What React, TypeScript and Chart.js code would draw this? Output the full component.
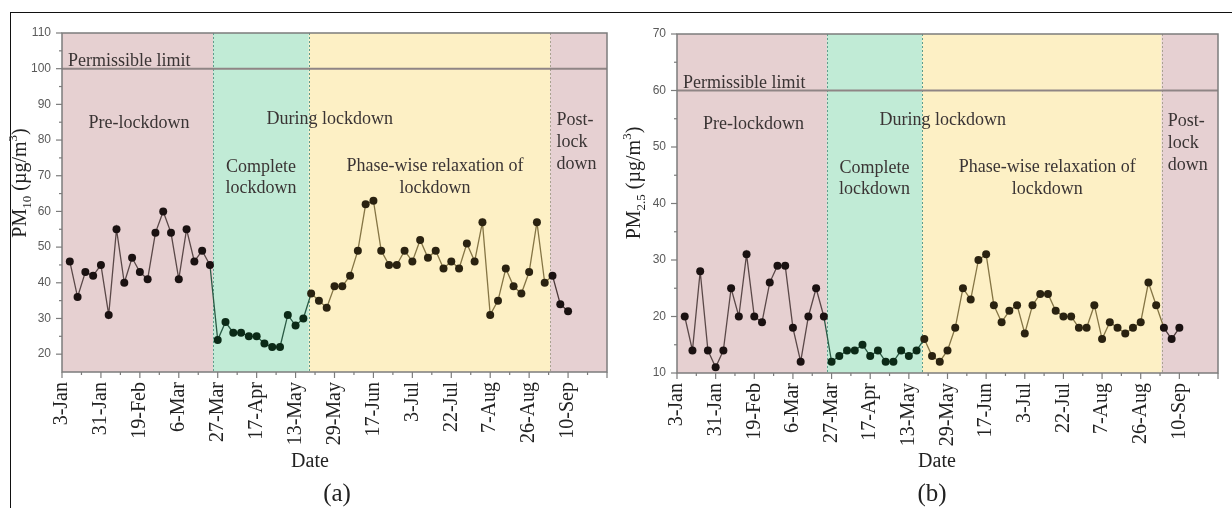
import React, { useEffect, useRef } from 'react';
import { Chart, registerables } from 'chart.js';

Chart.register(...registerables);

// ---------- data ----------
const dateLabels = ['3-Jan', '31-Jan', '19-Feb', '6-Mar', '27-Mar', '17-Apr', '13-May', '29-May', '17-Jun', '3-Jul', '22-Jul', '7-Aug', '26-Aug', '10-Sep', ''];
const xTickValues = [0, 5, 10, 15, 20, 25, 30, 35, 40, 45, 50, 55, 60, 65, 70];

const pm10Values = [
  46, 36, 43, 42, 45, 31, 55, 40, 47, 43, 41, 54, 60, 54, 41, 55, 46, 49, 45,
  24, 29, 26, 26, 25, 25, 23, 22, 22, 31, 28, 30,
  37, 35, 33, 39, 39, 42, 49, 62, 63, 49, 45, 45, 49, 46, 52, 47, 49, 44, 46, 44, 51, 46, 57, 31, 35, 44, 39, 37, 43, 57, 40,
  42, 34, 32,
];
const pm25Values = [
  20, 14, 28, 14, 11, 14, 25, 20, 31, 20, 19, 26, 29, 29, 18, 12, 20, 25, 20,
  12, 13, 14, 14, 15, 13, 14, 12, 12, 14, 13, 14,
  16, 13, 12, 14, 18, 25, 23, 30, 31, 22, 19, 21, 22, 17, 22, 24, 24, 21, 20, 20, 18, 18, 22, 16, 19, 18, 17, 18, 19, 26, 22,
  18, 16, 18,
];

const pm10Ticks = [20, 30, 40, 50, 60, 70, 80, 90, 100, 110];
const pm25Ticks = [10, 20, 30, 40, 50, 60, 70];
const pm10Range = [15, 110];
const pm25Range = [10, 70];
const pm10Limit = 100;
const pm25Limit = 60;
const phaseEdges = [19.4, 31.7, 62.7];
const limitLabel = 'Permissible limit';
const phaseTexts = ['Pre-lockdown', 'During lockdown', 'Complete', 'lockdown', 'Phase-wise relaxation of', 'lockdown', 'Post-', 'lock', 'down'];

// ---------- styles ----------
const zoneFills = ['#e6d0d1', '#c1ebd6', '#fdf0c5', '#e6d0d2'];
const zoneLines = ['#5a4848', '#2a5a44', '#857545', '#4a3838'];
const zonePoints = ['#1a1111', '#0b2a17', '#2a2210', '#1a1111'];
const dividerColors = ['#5f9d8c', '#5f9d8c', '#a9a290'];
// text anchor: x in data units, dy = baseline offset from plot top, align
const textAnchors = [
  { x: 9.9, dy: 95, align: 'center' },
  { x: 34.4, dy: 90.5, align: 'center' },
  { x: 25.55, dy: 138.5, align: 'center' },
  { x: 25.55, dy: 160, align: 'center' },
  { x: 47.9, dy: 137.5, align: 'center' },
  { x: 47.9, dy: 160, align: 'center' },
  { x: 63.5, dy: 91.5, align: 'left' },
  { x: 63.5, dy: 113.5, align: 'left' },
  { x: 63.5, dy: 135.5, align: 'left' },
];

const SERIF = '"Liberation Serif", "Times New Roman", serif';
const SANS = '"Liberation Sans", Arial, sans-serif';

function zoneOf(x: number) {
  let z = 0;
  for (const e of phaseEdges) if (x > e) z++;
  return z;
}

const decor = {
  id: 'decor',
  beforeDatasetsDraw(chart: any, _a: any, opts: any) {
    const { ctx, chartArea } = chart;
    const { left, right, top, bottom } = chartArea;
    const xs = chart.scales.x;
    const ys = chart.scales.y;
    ctx.save();
    const edges = [xs.min, ...phaseEdges, xs.max].map((v: number) => xs.getPixelForValue(v));
    for (let i = 0; i < 4; i++) {
      ctx.fillStyle = zoneFills[i];
      ctx.fillRect(edges[i], top, edges[i + 1] - edges[i], bottom - top);
    }
    ctx.lineWidth = 1;
    ctx.setLineDash([2, 2]);
    phaseEdges.forEach((e, i) => {
      const px = Math.round(xs.getPixelForValue(e)) + 0.5;
      ctx.strokeStyle = dividerColors[i];
      ctx.beginPath();
      ctx.moveTo(px, top);
      ctx.lineTo(px, bottom);
      ctx.stroke();
    });
    ctx.setLineDash([]);
    const ly = ys.getPixelForValue(opts.limit);
    ctx.strokeStyle = '#8f8585';
    ctx.lineWidth = 2;
    ctx.beginPath();
    ctx.moveTo(left, ly);
    ctx.lineTo(right, ly);
    ctx.stroke();

    ctx.font = '18px ' + SERIF;
    ctx.fillStyle = '#3a3434';
    ctx.textBaseline = 'alphabetic';
    ctx.textAlign = 'left';
    ctx.fillText(limitLabel, left + 6, ly - 2.5);
    phaseTexts.forEach((t, i) => {
      const a = textAnchors[i];
      ctx.textAlign = a.align;
      ctx.fillText(t, xs.getPixelForValue(a.x), top + a.dy);
    });
    ctx.restore();
  },
  afterDatasetsDraw(chart: any, _a: any, opts: any) {
    const { ctx, chartArea } = chart;
    const { left, right, top, bottom } = chartArea;
    const xs = chart.scales.x;
    const ys = chart.scales.y;
    ctx.save();
    ctx.strokeStyle = '#7c7c7c';
    ctx.lineWidth = 1.5;
    ctx.strokeRect(left, top, right - left, bottom - top);
    ctx.lineWidth = 1.2;
    const line = (x1: number, y1: number, x2: number, y2: number) => {
      ctx.beginPath();
      ctx.moveTo(x1, y1);
      ctx.lineTo(x2, y2);
      ctx.stroke();
    };
    const yt: number[] = opts.yTicks;
    yt.forEach((v) => {
      const py = ys.getPixelForValue(v);
      line(left - 6, py, left, py);
      const m = v + 5;
      if (m < ys.max) {
        const pm = ys.getPixelForValue(m);
        line(left - 3, pm, left, pm);
      }
    });
    xTickValues.forEach((v) => {
      const px = xs.getPixelForValue(v);
      line(px, bottom, px, bottom + 6);
      const m = v + 2.5;
      if (m < xs.max) {
        const pm = xs.getPixelForValue(m);
        line(pm, bottom, pm, bottom + 3);
      }
    });
    ctx.restore();
  },
  afterDraw(chart: any, _a: any, opts: any) {
    const { ctx } = chart;
    ctx.save();
    ctx.fillStyle = '#222';
    // y title with subscript / superscript
    const big = '20px ' + SERIF;
    const small = '13px ' + SERIF;
    const parts = [
      { t: 'PM', f: big, dy: 0 },
      { t: opts.sub, f: small, dy: 5 },
      { t: ' (\u00b5g/m', f: big, dy: 0 },
      { t: '3', f: small, dy: -9 },
      { t: ')', f: big, dy: 0 },
    ];
    let total = 0;
    parts.forEach((p) => {
      ctx.font = p.f;
      total += ctx.measureText(p.t).width;
    });
    ctx.translate(opts.yTitleX, opts.yTitleY);
    ctx.rotate(-Math.PI / 2);
    ctx.textAlign = 'left';
    ctx.textBaseline = 'alphabetic';
    let cx = -total / 2;
    parts.forEach((p) => {
      ctx.font = p.f;
      ctx.fillText(p.t, cx, p.dy);
      cx += ctx.measureText(p.t).width;
    });
    ctx.setTransform(1, 0, 0, 1, 0, 0);
    ctx.textAlign = 'center';
    ctx.font = '20px ' + SERIF;
    ctx.fillText('Date', opts.dateX, 467);
    ctx.font = '25px ' + SERIF;
    ctx.fillText(opts.panel, opts.panelX, 501);
    ctx.restore();
  },
};

type Props = {
  values: number[];
  yTicks: number[];
  yRange: number[];
  limit: number;
  sub: string;
  panel: string;
  width: number;
  yAxisW: number;
  rightPad: number;
  topPad: number;
  xAxisH: number;
  yTitleX: number;
  dateX: number;
  panelX: number;
};

function PMChart(p: Props) {
  const ref = useRef<HTMLCanvasElement>(null);
  useEffect(() => {
    if (!ref.current) return;
    const chart = new Chart(ref.current, {
      type: 'line',
      data: {
        datasets: [
          {
            data: p.values.map((v, i) => ({ x: i + 1, y: v })),
            borderColor: zoneLines[0],
            borderWidth: 1.3,
            pointRadius: 4,
            pointBorderWidth: 0,
            pointBackgroundColor: (c: any) => zonePoints[zoneOf(c.raw ? c.raw.x : 0)],
            segment: {
              borderColor: (c: any) => zoneLines[zoneOf((c.p0.parsed.x + c.p1.parsed.x) / 2)],
            },
            tension: 0,
          },
        ],
      },
      options: {
        animation: false,
        responsive: false,
        events: [],
        layout: { padding: { left: 0, right: p.rightPad, top: p.topPad, bottom: 0 } },
        plugins: {
          legend: { display: false },
          tooltip: { enabled: false },
          decor: {
            limit: p.limit,
            yTicks: p.yTicks,
            sub: p.sub,
            panel: p.panel,
            yTitleX: p.yTitleX,
            yTitleY: 183,
            dateX: p.dateX,
            panelX: p.panelX,
          },
        } as any,
        scales: {
          x: {
            type: 'linear',
            min: 0,
            max: 70,
            grid: { display: false, drawTicks: false },
            border: { display: false },
            afterBuildTicks: (s: any) => {
              s.ticks = xTickValues.map((v) => ({ value: v }));
            },
            afterFit: (s: any) => {
              s.height = p.xAxisH;
              s.paddingLeft = 0;
              s.paddingRight = 0;
            },
            ticks: {
              autoSkip: false,
              maxRotation: 90,
              minRotation: 90,
              padding: 10,
              color: '#222',
              font: { family: SERIF, size: 20 },
              callback: (v: any) => dateLabels[Math.round(Number(v) / 5)] ?? '',
            },
          },
          y: {
            type: 'linear',
            min: p.yRange[0],
            max: p.yRange[1],
            grid: { display: false, drawTicks: false },
            border: { display: false },
            afterBuildTicks: (s: any) => {
              s.ticks = p.yTicks.map((v) => ({ value: v }));
            },
            afterFit: (s: any) => {
              s.width = p.yAxisW;
              s.paddingTop = 0;
              s.paddingBottom = 0;
            },
            ticks: {
              padding: 11,
              color: '#5a5a5a',
              font: { family: SANS, size: 12 },
            },
          },
        },
      },
      plugins: [decor as any],
    } as any);
    return () => chart.destroy();
  }, []);
  return <canvas ref={ref} width={p.width} height={508} style={{ width: p.width, height: 508, display: 'block' }} />;
}

export default function App() {
  return (
    <div style={{ position: 'absolute', left: 0, top: 0, width: 1232, height: 508, background: '#fff', overflow: 'hidden' }}>
      <div
        style={{
          position: 'absolute',
          left: 10,
          top: 12,
          width: 1222,
          height: 496,
          borderTop: '1px solid #111',
          borderLeft: '1px solid #111',
        }}
      />
      <div style={{ position: 'absolute', left: 0, top: 0 }}>
        <PMChart
          values={pm10Values}
          yTicks={pm10Ticks}
          yRange={pm10Range}
          limit={pm10Limit}
          sub="10"
          panel="(a)"
          width={620}
          yAxisW={62}
          rightPad={13}
          topPad={33}
          xAxisH={136}
          yTitleX={26}
          dateX={310}
          panelX={337}
        />
      </div>
      <div style={{ position: 'absolute', left: 620, top: 0 }}>
        <PMChart
          values={pm25Values}
          yTicks={pm25Ticks}
          yRange={pm25Range}
          limit={pm25Limit}
          sub="2.5"
          panel="(b)"
          width={612}
          yAxisW={57}
          rightPad={14}
          topPad={34}
          xAxisH={135}
          yTitleX={20}
          dateX={317}
          panelX={312}
        />
      </div>
    </div>
  );
}
